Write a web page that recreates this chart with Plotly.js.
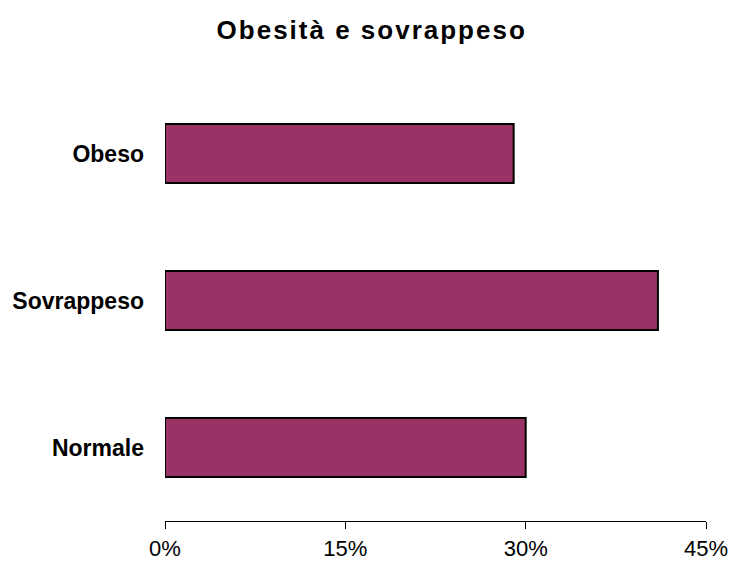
<!DOCTYPE html>
<html>
<head>
<meta charset="utf-8">
<script src="https://cdn.plot.ly/plotly-3.0.1.min.js"></script>
<style>
html,body{margin:0;padding:0;background:#fff;}
#chart{width:736px;height:563px;}
#chart .gtitle{letter-spacing:2px;}
</style>
</head>
<body>
<div id="chart"></div>
<script>
var categories = ["Normale", "Sovrappeso", "Obeso"];
var values = [30, 41, 29];
var tickVals = [0, 15, 30, 45];
var tickText = ["0%", "15%", "30%", "45%"];

var trace = {
  type: "bar",
  orientation: "h",
  x: values,
  y: categories,
  width: 0.4,
  marker: {color: "#993366", line: {color: "#000000", width: 2}},
  hoverinfo: "none"
};

var layout = {
  width: 736, height: 563,
  margin: {l: 165, r: 30, t: 80, b: 42},
  paper_bgcolor: "#ffffff", plot_bgcolor: "#ffffff",
  showlegend: false,
  title: {
    text: "<b>Obesità e sovrappeso</b>",
    font: {family: "Liberation Sans, Arial, sans-serif", size: 26, color: "#000"},
    x: 0.505, xanchor: "center", xref: "container",
    y: 1 - 30/563, yanchor: "middle", yref: "container"
  },
  xaxis: {
    range: [0, 45],
    tickvals: tickVals, ticktext: tickText,
    showgrid: false, zeroline: false,
    showline: true, linecolor: "#000", linewidth: 1,
    ticks: "outside", ticklen: 7, tickcolor: "#000", tickwidth: 1,
    ticklabelstandoff: 1,
    tickfont: {family: "Liberation Sans, Arial, sans-serif", size: 22, color: "#000"},
    fixedrange: true
  },
  yaxis: {
    type: "category",
    categoryorder: "array", categoryarray: categories,
    range: [-0.5, 2.5],
    showgrid: false, zeroline: false, showline: false,
    ticks: "", ticklabelstandoff: 20,
    tickfont: {family: "Liberation Sans, Arial, sans-serif", size: 23, color: "#000", weight: "bold"},
    fixedrange: true
  }
};

Plotly.newPlot("chart", [trace], layout, {displayModeBar: false, staticPlot: true});
</script>
</body>
</html>
